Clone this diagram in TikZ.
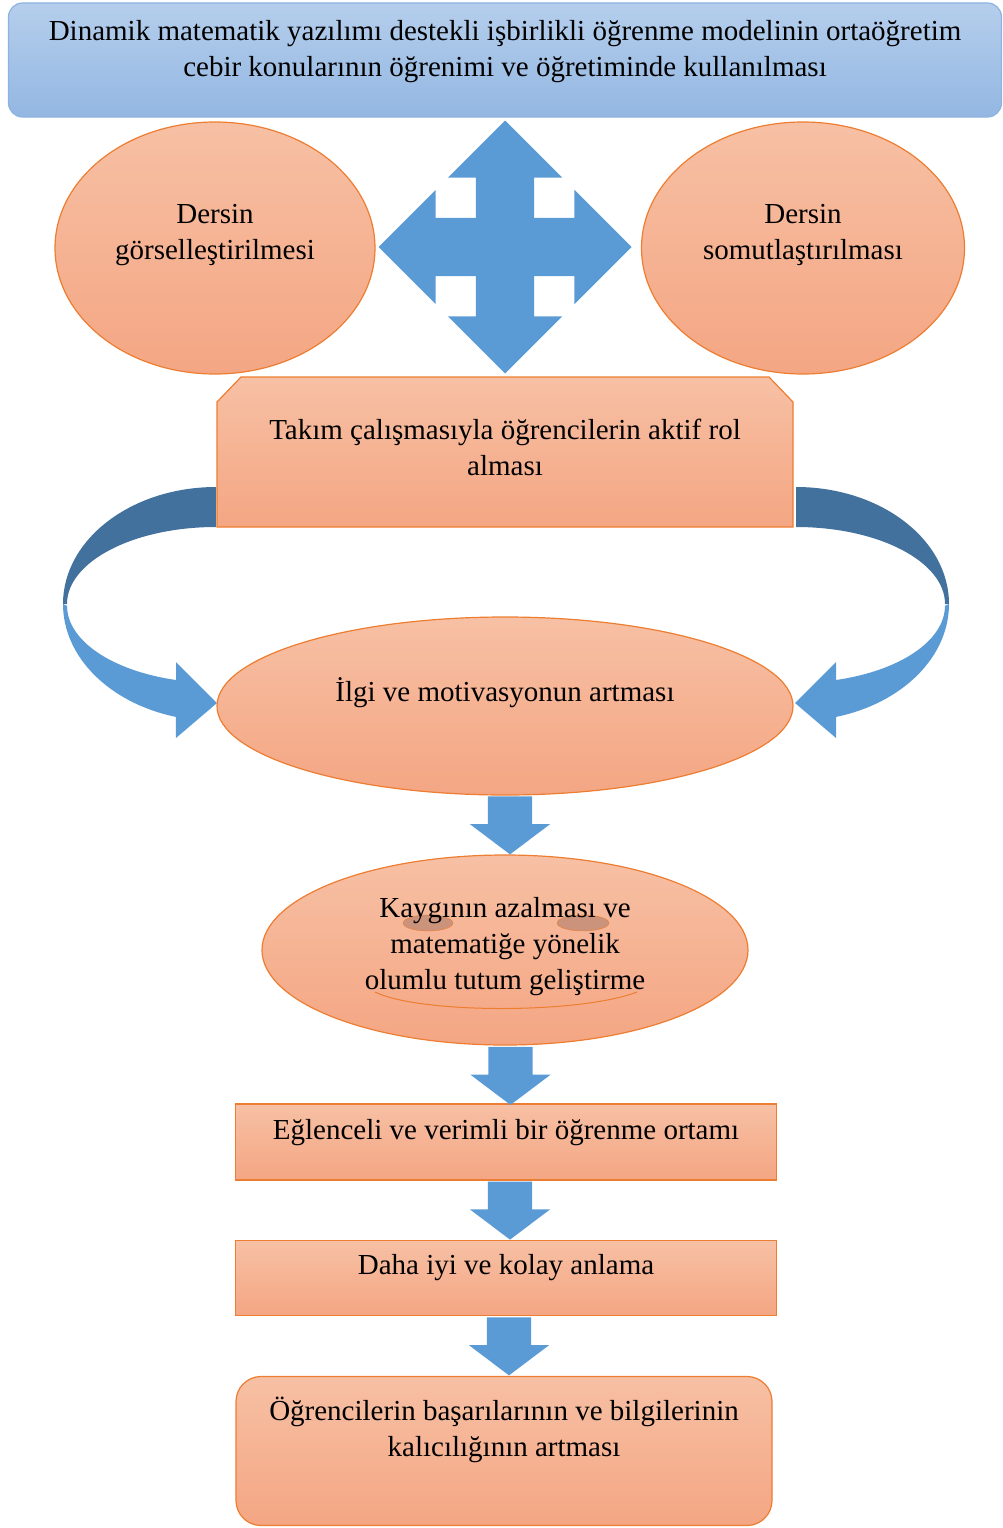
\documentclass[tikz,border=0pt]{standalone}
\usepackage{fontspec}
\setmainfont{Liberation Serif}
\usetikzlibrary{shapes.geometric, shapes.arrows, calc}

\definecolor{boxtop}{HTML}{F7C0A4}
\definecolor{boxbot}{HTML}{F4A683}
\definecolor{boxline}{HTML}{ED7D31}
\definecolor{headtop}{HTML}{B5CEEC}
\definecolor{headbot}{HTML}{93B7E2}
\definecolor{headline}{HTML}{8DB3E2}
\definecolor{arrowblue}{HTML}{5B9BD5}
\definecolor{arrowdark}{HTML}{41719C}
\definecolor{eyefill}{HTML}{CB937B}

\tikzset{
	box/.style={draw=boxline, line width=1.2pt, top color=boxtop, bottom color=boxbot, inner sep=0pt},
	txt/.style={align=center, font=\fontsize{29}{36}\selectfont, inner sep=0pt},
	downarrow/.style={single arrow, fill=arrowblue, rotate=-90, minimum height=58pt, inner xsep=0pt, inner ysep=22pt,
		single arrow head extend=18pt, single arrow tip angle=106},
	crossarrow/.style={double arrow, fill=arrowblue, minimum height=253pt, inner xsep=0pt, inner ysep=29pt,
		double arrow head extend=28pt, double arrow tip angle=90},
}

\begin{document}
\begin{tikzpicture}[x=1pt, y=-1pt]
	\useasboundingbox (0,0) rectangle (1003,1528);
	% title
	\node[rectangle, rounded corners=14pt, draw=headline, line width=1.2pt, top color=headtop, bottom color=headbot,
		minimum width=993pt, minimum height=114pt] (title) at (505,60) {};
	\node[txt] (titletext) at (505,52) {Dinamik matematik yazılımı destekli işbirlikli öğrenme modelinin ortaöğretim\\cebir konularının öğrenimi ve öğretiminde kullanılması};
	% four-way arrow
	\node[crossarrow] (crossh) at (505,247) {};
	\node[crossarrow, rotate=90] (crossv) at (505,247) {};
	% side ellipses
	\node[box, ellipse, minimum width=320pt, minimum height=252pt] (gorsel) at (215,248) {};
	\node[txt] (gorseltext) at (215,235) {Dersin\\görselleştirilmesi};
	\node[box, ellipse, minimum width=323pt, minimum height=252pt] (somut) at (803,248) {};
	\node[txt] (somuttext) at (803,235) {Dersin\\somutlaştırılması};
	% curved arrows
	\foreach \cx/\sx in {216/1, 796/-1}{
		\begin{scope}[shift={(\cx,604)}, xscale=\sx]
			\fill[arrowdark] (0,-117) arc[start angle=-90, end angle=-180, x radius=153, y radius=117]
				-- (-149,0) arc[start angle=-180, end angle=-90, x radius=149, y radius=77] -- cycle;
			\fill[arrowblue] (-153,0) arc[start angle=-180, end angle=-254.8, x radius=153, y radius=117]
				-- (-40,134) -- (1,99) -- (-40,58) -- (-40,76)
				arc[start angle=-254.4, end angle=-180, x radius=149, y radius=77] -- cycle;
		\end{scope}
	}
	% team box
	\draw[box] (217,527) -- (217,402) -- (241,377) -- (769,377) -- (793,402) -- (793,527) -- cycle;
	\node[txt] (takim) at (505,447) {Takım çalışmasıyla öğrencilerin aktif rol\\alması};
	% chain
	\node[box, ellipse, minimum width=576pt, minimum height=178pt] (ilgi) at (505,706) {};
	\node[txt] (ilgitext) at (505,693) {İlgi ve motivasyonun artması};
	\node[box, ellipse, minimum width=486pt, minimum height=190pt] (kaygi) at (505,950) {};
	\draw[boxline, fill=eyefill] (428,923) ellipse [x radius=25, y radius=8];
	\draw[boxline, fill=eyefill] (583,923) ellipse [x radius=26, y radius=8];
	\draw[boxline, line width=1pt] (375,992) .. controls (420,1014) and (580,1014) .. (637,992);
	\node[txt] (kaygitext) at (505,947) {Kaygının azalması ve\\matematiğe yönelik\\olumlu tutum geliştirme};
	\node[box, rectangle, minimum width=541pt, minimum height=76pt] (eglence) at (506,1142) {};
	\node[txt] (eglencetext) at (506,1133) {Eğlenceli ve verimli bir öğrenme ortamı};
	\node[box, rectangle, minimum width=541pt, minimum height=75pt] (daha) at (506,1278) {};
	\node[txt] (dahatext) at (506,1268) {Daha iyi ve kolay anlama};
	\node[box, rectangle, rounded corners=25pt, minimum width=536pt, minimum height=149pt] (basari) at (504,1451) {};
	\node[txt] (basaritext) at (504,1430) {Öğrencilerin başarılarının ve bilgilerinin\\kalıcılığının artması};
	% down arrows
	\node[downarrow] (a1) at ($(ilgi.south)!0.5!(kaygi.north)+(5,-8)$) {};
	\node[downarrow] (a2) at ($(kaygi.south)!0.5!(eglence.north)+(5,-7)$) {};
	\node[downarrow] (a3) at ($(eglence.south)!0.5!(daha.north)+(4,-8)$) {};
	\node[downarrow] (a4) at ($(daha.south)!0.5!(basari.north)+(4,-8)$) {};
\end{tikzpicture}
\end{document}
